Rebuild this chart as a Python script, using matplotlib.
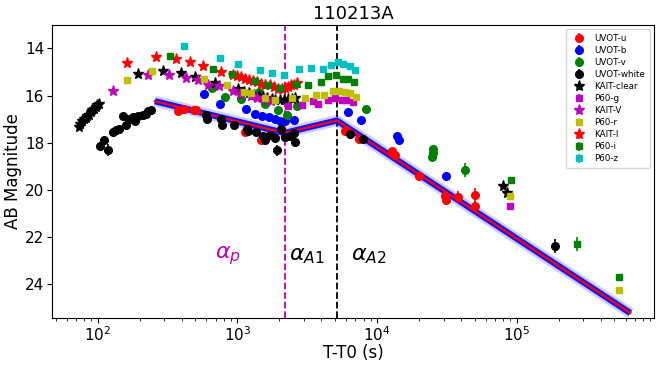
import numpy as np
import matplotlib
matplotlib.use("Agg")
import matplotlib.pyplot as plt

# UVOT-u
u_t = [374, 418, 493, 507, 1130, 1489, 2190, 5920, 7380, 12820, 13500, 19950, 30700, 31000, 38000, 50100, 50500]
u_mag = [16.67, 16.57, 16.62, 16.60, 17.56, 17.87, 17.74, 17.52, 17.84, 18.37, 18.51, 19.43, 20.28, 20.43, 20.31, 20.21, 20.68]
u_err = [0.05, 0.05, 0.05, 0.05, 0.05, 0.05, 0.05, 0.05, 0.06, 0.08, 0.08, 0.15, 0.25, 0.2, 0.25, 0.3, 0.2]

# UVOT-b
b_t = [575, 755, 1162, 1333, 1506, 1680, 1854, 2012, 2190, 2557, 6180, 7710, 13900, 14300, 31400]
b_mag = [15.93, 16.35, 16.57, 16.77, 16.85, 16.91, 16.99, 17.09, 17.09, 17.05, 16.71, 17.02, 17.73, 17.90, 19.43]
b_err = [0.04, 0.04, 0.04, 0.04, 0.04, 0.04, 0.04, 0.04, 0.04, 0.05, 0.05, 0.05, 0.08, 0.08, 0.15]

# UVOT-v
v_t = [656, 820, 1057, 1422, 1589, 1941, 2256, 2655, 8340, 24900, 25100, 25300, 42800]
v_mag = [15.67, 16.07, 16.14, 15.86, 16.34, 16.60, 16.81, 16.43, 16.55, 18.61, 18.27, 18.44, 19.18]
v_err = [0.05, 0.05, 0.05, 0.05, 0.05, 0.06, 0.06, 0.06, 0.06, 0.12, 0.12, 0.12, 0.3]

# UVOT-white
w_t = [104, 111, 119, 128, 135, 142, 151, 159, 168, 178, 185, 195, 210, 221, 230, 243,
       598, 610, 767, 776, 940, 1180, 1200, 1370, 1530, 1575, 1707, 1854, 1910, 2049,
       2190, 2377, 2557, 2585, 6430, 7890, 186600]
w_mag = [18.13, 17.90, 18.30, 17.56, 17.45, 17.40, 16.88, 17.23, 16.99, 16.91, 17.09, 16.85, 16.81, 16.77, 16.67, 16.60,
         16.81, 16.99, 16.99, 17.23, 17.23, 17.40, 17.49, 17.56, 17.70, 17.87, 17.66, 17.80, 18.33, 17.42,
         17.76, 17.70, 17.59, 17.99, 17.63, 17.84, 22.38]
w_err = [0.15, 0.12, 0.25, 0.05, 0.05, 0.05, 0.05, 0.05, 0.05, 0.05, 0.05, 0.05, 0.05, 0.05, 0.05, 0.05,
         0.1, 0.1, 0.05, 0.08, 0.05, 0.08, 0.08, 0.05, 0.05, 0.08, 0.05, 0.05, 0.25, 0.05,
         0.05, 0.08, 0.05, 0.2, 0.05, 0.05, 0.3]

# KAIT-clear
c_t = [73, 75, 77.6, 80, 82, 84, 86.5, 89, 91.6, 94, 96.8, 99, 102,
       195, 292, 395, 499, 687, 1017, 1122, 1220, 1324, 1439, 1537, 1643, 1758,
       1875, 2005, 2143, 2290, 2446, 2572, 79300, 84700]
c_mag = [17.33, 17.20, 17.09, 17.00, 16.95, 16.88, 16.81, 16.70, 16.60, 16.55, 16.48, 16.40, 16.34,
         15.08, 14.94, 15.03, 15.20, 15.46, 15.74, 15.83, 15.91, 15.96, 16.00, 16.04, 16.09, 16.13,
         16.17, 16.19, 16.17, 16.15, 16.13, 16.09, 19.86, 20.14]

# P60-g
g_t = [2291, 2918, 3500, 3800, 4440, 4960, 5600, 5980, 6690, 90100]
g_mag = [16.45, 16.38, 16.24, 16.34, 16.20, 16.10, 16.17, 16.17, 16.28, 20.68]

# KAIT-V
kv_t = [128, 228, 326, 430, 521, 621, 738, 929, 1038, 1262, 1393, 1550, 1750]
kv_mag = [15.79, 15.11, 15.14, 15.25, 15.35, 15.53, 15.60, 15.82, 15.93, 16.03, 16.10, 16.15, 16.25]

# P60-r
r_t = [161, 247, 582, 848, 1117, 1262, 1589, 1875, 2471, 3050, 3640, 4200, 4800, 5300, 5850, 6430, 7060, 90100, 542000]
r_mag = [15.32, 14.96, 15.28, 15.57, 15.83, 15.89, 16.10, 16.20, 16.10, 16.11, 15.96, 15.96, 15.79, 15.79, 15.86, 15.89, 16.07, 20.28, 24.28]

# KAIT-I
ki_t = [161, 261, 364, 461, 566, 767, 930, 1000, 1069, 1142, 1220, 1303, 1393, 1489,
        1590, 1699, 1815, 1940, 2075, 2178, 2290, 2405, 2528, 2656]
ki_mag = [14.61, 14.37, 14.43, 14.58, 14.75, 14.99, 15.11, 15.18, 15.23, 15.28, 15.34, 15.40, 15.43, 15.49,
          15.53, 15.57, 15.62, 15.70, 15.72, 15.66, 15.62, 15.57, 15.53, 15.48]

# P60-i
i_t = [331, 668, 920, 1346, 1660, 2012, 2610, 3190, 3950, 4490, 5070, 5660, 6180, 6800, 91200, 270000, 542000]
i_mag = [14.33, 14.85, 15.08, 15.39, 15.57, 15.67, 15.49, 15.53, 15.43, 15.18, 15.11, 15.29, 15.29, 15.42, 19.60, 22.31, 23.69]
i_err = [0.03, 0.03, 0.03, 0.03, 0.03, 0.03, 0.03, 0.03, 0.03, 0.03, 0.03, 0.03, 0.03, 0.03, 0.05, 0.3, 0.05]

# P60-z
z_t = [418, 755, 1012, 1446, 1758, 2170, 2760, 3370, 4130, 4690, 5240, 5750, 6350, 7000]
z_mag = [13.90, 14.40, 14.64, 14.92, 15.06, 15.11, 14.86, 14.82, 14.86, 14.68, 14.58, 14.65, 14.75, 14.92]

# broken power-law fit nodes
fit_t = [257, 2180, 5150, 6.5e5]
fit_mag = [16.24, 17.59, 17.06, 25.24]

t_break_p = 2180
t_break_a = 5150

fig = plt.figure(figsize=(6.64, 3.67), dpi=100)
ax = fig.add_axes([0.078, 0.1335, 0.907, 0.7985])

# fit with fuzzy blue envelope
ax.plot(fit_t, fit_mag, color='b', lw=8, alpha=0.2, zorder=2, solid_capstyle='butt')
ax.plot(fit_t, fit_mag, color='b', lw=4.5, alpha=0.9, zorder=2, solid_capstyle='butt')
ax.plot(fit_t, fit_mag, color='r', lw=1.6, zorder=3)

series = [
    (u_t, u_mag, u_err, 'ro', 'UVOT-u', 5.5),
    (b_t, b_mag, b_err, 'bo', 'UVOT-b', 5.5),
    (v_t, v_mag, v_err, 'go', 'UVOT-v', 5.5),
    (w_t, w_mag, w_err, 'ko', 'UVOT-white', 5.5),
    (c_t, c_mag, None, 'k*', 'KAIT-clear', 8),
    (g_t, g_mag, None, 'ms', 'P60-g', 5),
    (kv_t, kv_mag, None, 'm*', 'KAIT-V', 8),
    (r_t, r_mag, None, 'ys', 'P60-r', 5),
    (ki_t, ki_mag, None, 'r*', 'KAIT-I', 8),
    (i_t, i_mag, i_err, 'gs', 'P60-i', 5),
    (z_t, z_mag, None, 'cs', 'P60-z', 5),
]
for t, m, e, fmt, lab, ms in series:
    if e is None:
        e = np.zeros(len(t))
    ax.errorbar(t, m, yerr=e, fmt=fmt, ms=ms, label=lab, zorder=4, elinewidth=1.2)

ax.axvline(t_break_p, color='m', ls='--', lw=1.3, zorder=1)
ax.axvline(t_break_a, color='k', ls='--', lw=1.3, zorder=1)

ax.text(690, 22.8, r'$\alpha_p$', color='m', fontsize=16, va='center')
ax.text(2350, 22.8, r'$\alpha_{A1}$', color='k', fontsize=16, va='center')
ax.text(6500, 22.8, r'$\alpha_{A2}$', color='k', fontsize=16, va='center')

ax.set_xscale('log')
ax.set_xlim(47, 9.6e5)
ax.set_ylim(25.45, 13.0)
ax.set_yticks([14, 16, 18, 20, 22, 24])
ax.tick_params(labelsize=11, pad=2)
ax.set_xlabel('T-T0 (s)', fontsize=12, labelpad=0)
ax.set_ylabel('AB Magnitude', fontsize=12, labelpad=2)
ax.set_title('110213A', fontsize=13, pad=4)
ax.legend(loc='upper right', fontsize=6.3, labelspacing=0.35, borderpad=0.5)

fig.savefig('out.png', dpi=100)
